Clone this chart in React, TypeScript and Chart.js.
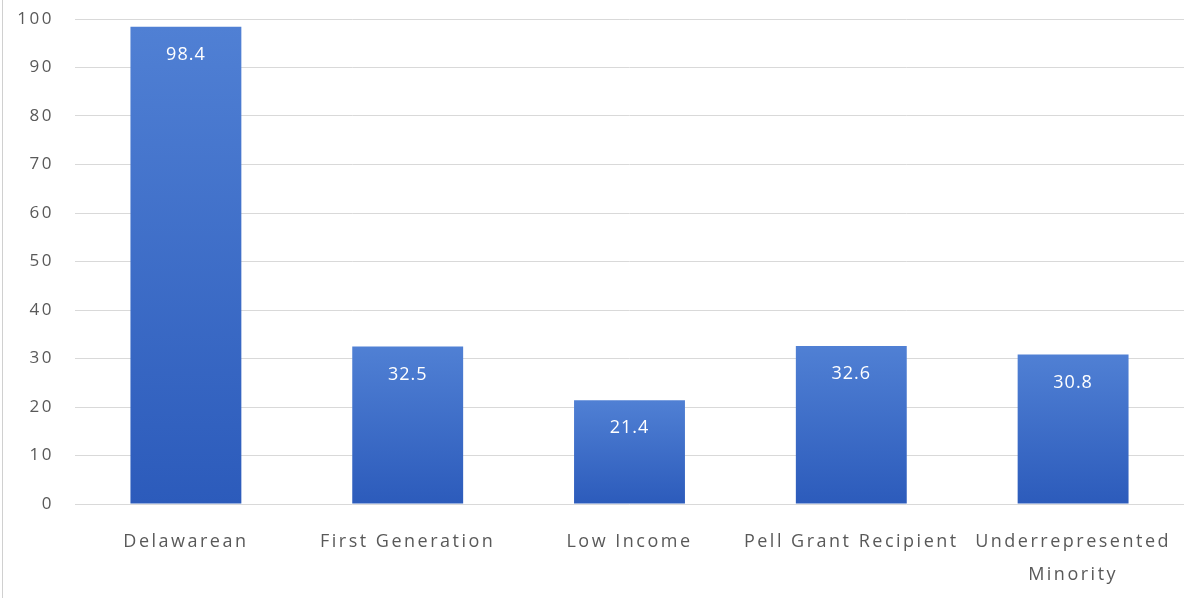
import React, { useEffect, useRef } from "react";
import { Chart, registerables } from "chart.js";

Chart.register(...registerables);

const categories: (string | string[])[] = [
  "Delawarean",
  "First Generation",
  "Low Income",
  "Pell Grant Recipient",
  ["Underrepresented", "Minority"],
];
const values: number[] = [98.4, 32.5, 21.4, 32.6, 30.8];
const yTicks: number[] = [0, 10, 20, 30, 40, 50, 60, 70, 80, 90, 100];

const FONT = "'Open Sans', 'Noto Sans', sans-serif";

const bgPlugin = {
  id: "bgAndBorder",
  beforeDraw(chart: any) {
    const ctx = chart.ctx;
    ctx.save();
    ctx.fillStyle = "#ffffff";
    ctx.fillRect(0, 0, chart.width, chart.height);
    ctx.strokeStyle = "#d0d0d0";
    ctx.lineWidth = 1;
    ctx.beginPath();
    ctx.moveTo(2.5, 0);
    ctx.lineTo(2.5, chart.height);
    ctx.stroke();
    ctx.restore();
    (ctx as any).letterSpacing = "2.5px";
  },
};

const labelPlugin = {
  id: "barLabels",
  afterDatasetsDraw(chart: any) {
    const ctx = chart.ctx;
    const meta = chart.getDatasetMeta(0);
    ctx.save();
    (ctx as any).letterSpacing = "1px";
    ctx.fillStyle = "#ffffff";
    ctx.font = `18px ${FONT}`;
    ctx.textAlign = "center";
    ctx.textBaseline = "middle";
    meta.data.forEach((bar: any, i: number) => {
      ctx.fillText(String(values[i]), bar.x, bar.y + 28);
    });
    ctx.restore();
  },
};

export default function App() {
  const ref = useRef<HTMLCanvasElement | null>(null);
  useEffect(() => {
    if (!ref.current) return;
    const chart = new Chart(ref.current, {
      type: "bar",
      data: {
        labels: categories,
        datasets: [
          {
            data: values,
            backgroundColor: (c: any) => {
              const ch = c.chart;
              const ys = ch.scales?.y;
              if (!ch.chartArea || !ys || c.dataIndex === undefined) return "#3f6fcc";
              const top = ys.getPixelForValue(values[c.dataIndex]);
              const bottom = ys.getPixelForValue(0);
              const g = ch.ctx.createLinearGradient(0, top, 0, bottom);
              g.addColorStop(0, "#5080d4");
              g.addColorStop(1, "#2c5bbb");
              return g;
            },
            borderWidth: 0,
            barPercentage: 0.5,
            categoryPercentage: 1,
          },
        ],
      },
      options: {
        animation: false,
        responsive: false,
        layout: { padding: { top: 19, right: 4, left: 0, bottom: 0 } },
        plugins: { legend: { display: false }, tooltip: { enabled: false } },
        scales: {
          x: {
            grid: { display: false, drawTicks: false },
            border: { display: false },
            ticks: {
              color: "#595959",
              font: { family: FONT, size: 18, lineHeight: 1.85 },
              padding: 21,
              maxRotation: 0,
              autoSkip: false,
            },
            afterFit: (s: any) => {
              s.height = 94;
            },
          },
          y: {
            min: 0,
            max: 100,
            afterBuildTicks: (s: any) => {
              s.ticks = yTicks.map((v) => ({ value: v }));
            },
            grid: {
              color: "#d9d9d9",
              drawTicks: true,
              tickLength: 20,
              tickColor: "rgba(0,0,0,0)",
              lineWidth: 1,
            },
            border: { display: false },
            ticks: {
              color: "#595959",
              font: { family: FONT, size: 17 },
              padding: 1,
            },
            afterFit: (s: any) => {
              s.width = 75;
            },
          },
        },
      },
      plugins: [bgPlugin, labelPlugin],
    });
    return () => chart.destroy();
  }, []);
  return (
    <div style={{ position: "absolute", left: 0, top: 0, width: 1188, height: 598 }}>
      <canvas ref={ref} width={1188} height={598} style={{ display: "block" }} />
    </div>
  );
}
